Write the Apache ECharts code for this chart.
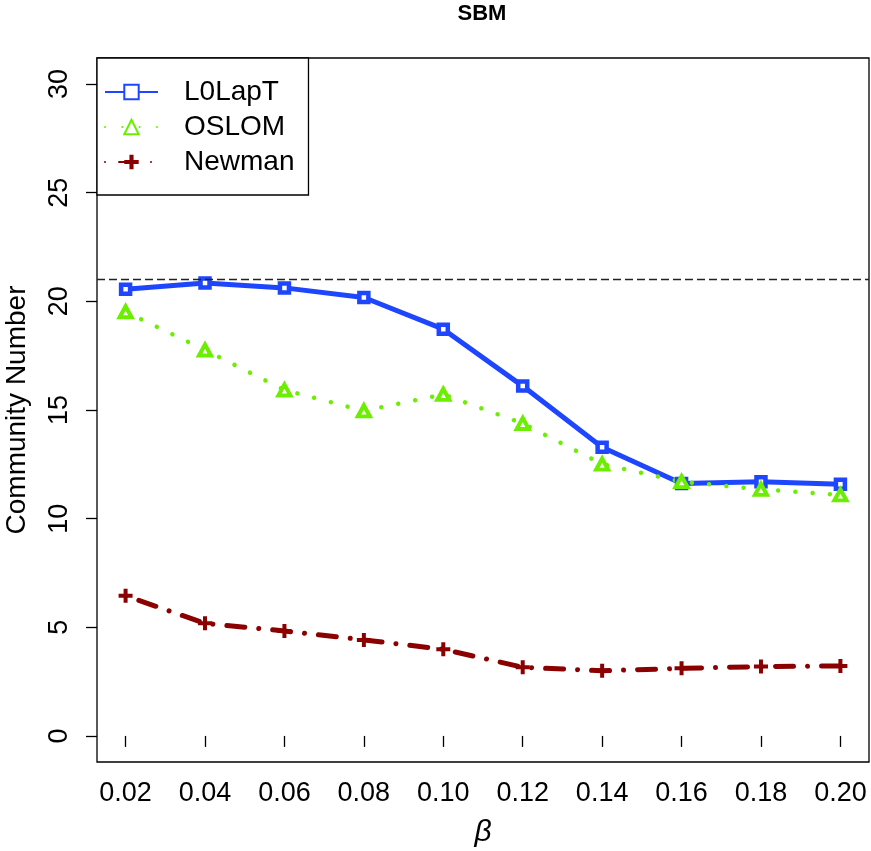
<!DOCTYPE html>
<html>
<head>
<meta charset="utf-8">
<script src="https://cdn.jsdelivr.net/npm/echarts@6/dist/echarts.min.js"></script>
<style>
html,body{margin:0;padding:0;background:#fff;}
#chart{width:871px;height:851px;}
</style>
</head>
<body>
<div id="chart"></div>
<script>
var betas = [0.02, 0.04, 0.06, 0.08, 0.10, 0.12, 0.14, 0.16, 0.18, 0.20];
var xTickLabels = ['0.02','0.04','0.06','0.08','0.10','0.12','0.14','0.16','0.18','0.20'];
var yTicks = [0, 5, 10, 15, 20, 25, 30];
var l0lapt = [20.56, 20.85, 20.62, 20.18, 18.72, 16.10, 13.29, 11.62, 11.70, 11.58];
var oslom  = [19.52, 17.76, 15.92, 14.96, 15.72, 14.38, 12.51, 11.70, 11.35, 11.09];
var newman = [6.45, 5.18, 4.83, 4.42, 3.99, 3.16, 3.00, 3.11, 3.19, 3.22];
var trueNumber = 21;

function pairs(vals){ return betas.map(function(b,i){ return [b, vals[i]]; }); }

var FONT = 'Liberation Sans, Arial, sans-serif';
var BLUE = '#1F46FF', GREEN = '#6BEE00', RED = '#8B0000';
var plusPath = 'path://M5,0H9V5H14V9H9V14H5V9H0V5H5Z';

var chart = echarts.init(document.getElementById('chart'), null, {renderer:'canvas'});
chart.setOption({
  animation: false,
  backgroundColor: '#fff',
  graphic: [{
    type: 'text', x: 482, y: 14,
    style: {text: 'SBM', font: 'bold 22px ' + FONT, fill: '#000', textAlign: 'center', textVerticalAlign: 'middle'}
  }],
  grid: {left: 97, right: 2, top: 58, bottom: 89, containLabel: false, outerBoundsMode: 'none',
         show: true, borderColor: '#000', borderWidth: 1.3, backgroundColor: 'transparent'},
  legend: {
    orient: 'vertical', left: 97, top: 58,
    padding: [19, 14, 18, 7],
    backgroundColor: '#fff', borderColor: '#000', borderWidth: 1.3, borderRadius: 0,
    itemWidth: 53, itemHeight: 18, itemGap: 5,
    textStyle: {fontFamily: FONT, fontSize: 28, color: '#000', lineHeight: 30, padding: [0,0,0,21]},
    data: ['L0LapT', 'OSLOM', 'Newman']
  },
  xAxis: {
    type: 'value', min: 0.0128, max: 0.2072,
    name: 'β', nameLocation: 'middle', nameGap: 56,
    nameTextStyle: {fontFamily: FONT, fontSize: 30, fontStyle: 'italic', color: '#000'},
    axisLine: {show: false},
    splitLine: {show: false},
    axisTick: {show: true, inside: false, length: 11, lineStyle: {color: '#000', width: 1.3}, customValues: betas},
    axisLabel: {
      customValues: betas, margin: 18, color: '#000', fontFamily: FONT, fontSize: 27,
      formatter: function(v){ var i = betas.findIndex(function(b){return Math.abs(b - v) < 1e-9;}); return i >= 0 ? xTickLabels[i] : ''; }
    }
  },
  yAxis: {
    type: 'value', min: -1.2, max: 31.2,
    name: 'Community Number', nameLocation: 'middle', nameGap: 66, nameRotate: 90,
    nameTextStyle: {fontFamily: FONT, fontSize: 28, color: '#000'},
    axisLine: {show: false},
    splitLine: {show: false},
    axisTick: {show: true, inside: false, length: 11, lineStyle: {color: '#000', width: 1.3}, customValues: yTicks},
    axisLabel: {customValues: yTicks, rotate: 90, margin: 24, color: '#000', fontFamily: FONT, fontSize: 27}
  },
  series: [
    {
      name: 'L0LapT', type: 'line', data: pairs(l0lapt),
      symbol: 'rect', symbolSize: 9,
      lineStyle: {color: BLUE, width: 5},
      itemStyle: {color: '#fff', borderColor: BLUE, borderWidth: 4.5},
      markLine: {
        silent: true, symbol: ['none','none'], label: {show: false},
        lineStyle: {color: '#222', width: 1.3, type: [8, 4]},
        data: [{yAxis: trueNumber}]
      }
    },
    {
      name: 'OSLOM', type: 'line', data: pairs(oslom),
      symbol: 'triangle', symbolSize: [12, 11],
      lineStyle: {color: GREEN, width: 4.5, type: [0.01, 17.3], cap: 'round'},
      itemStyle: {color: '#fff', borderColor: GREEN, borderWidth: 4}
    },
    {
      name: 'Newman', type: 'line', data: pairs(newman),
      symbol: plusPath, symbolSize: 14,
      lineStyle: {color: RED, width: 5, type: [0.01, 14, 18, 14], cap: 'round'},
      itemStyle: {color: RED}
    }
  ]
});
</script>
</body>
</html>
